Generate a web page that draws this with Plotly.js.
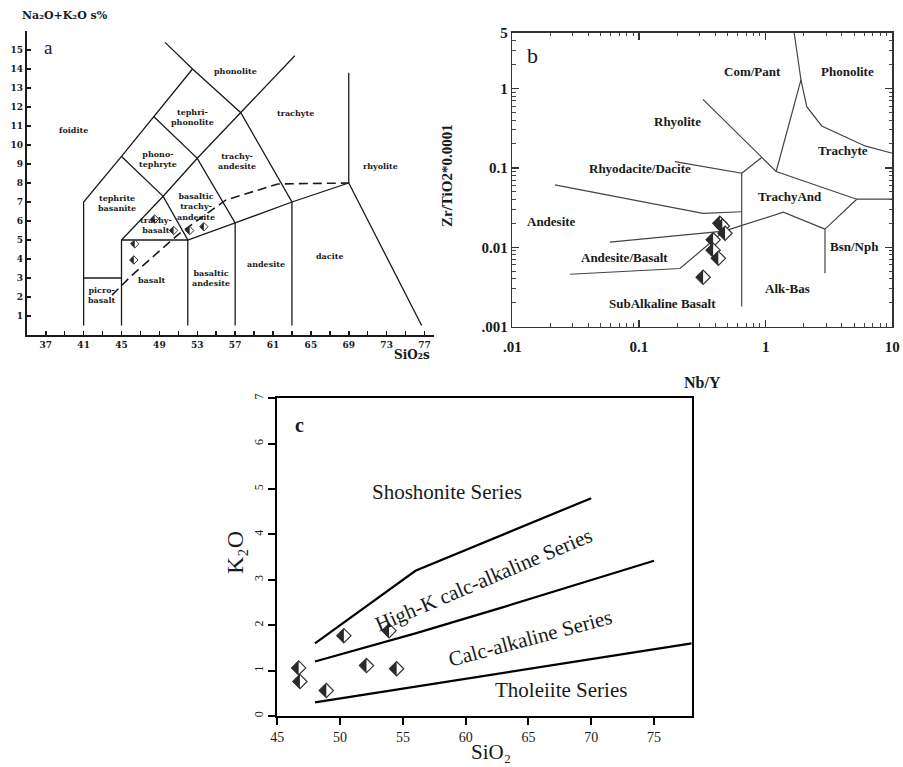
<!DOCTYPE html>
<html><head><meta charset="utf-8">
<script src="https://cdn.plot.ly/plotly-3.0.1.min.js"></script>
<style>html,body{margin:0;padding:0;background:#fff}#chart{width:903px;height:767px}</style>
</head><body><div id="chart"></div>
<script>
// ---------- Panel a : TAS diagram ----------
const tasBoundaryX = [41,41,45,48.4,52.5,null, 49.6,52.5,57.6,63,63,null, 63.3,57.6,53,49.4,45,45,null,
                      45,49.4,52,52,null, 48.4,53,57,57,null, 41,45,null, 45,52,57,63,69,76.7,null, 69,69];
const tasBoundaryY = [0.5,7,9.4,11.5,14,null, 15.4,14,11.7,7,0.5,null, 14.7,11.7,9.3,7.3,5,0.5,null,
                      9.4,7.3,5,0.5,null, 11.5,9.3,5.9,0.5,null, 3,3,null, 5,5,5.9,7,8,0.5,null, 8,13.8];
const tasDivideX = [44,46,51,53.5,56,61.5,69];
const tasDivideY = [2.1,3.1,5.3,6.2,7.1,7.95,8];
const tasSampleSiO2 = [48.5,50.5,52.2,53.7,46.4,46.3];
const tasSampleAlk  = [6.1,5.5,5.5,5.7,4.8,3.95];
const tasXTickVals = [37,39,41,43,45,47,49,51,53,55,57,59,61,63,65,67,69,71,73,75,77];
const tasXTickText = ['37','','41','','45','','49','','53','','57','','61','','65','','69','','73','','77'];
const tasYTickVals = [1,2,3,4,5,6,7,8,9,10,11,12,13,14,15];

// ---------- Panel b : Winchester & Floyd ----------
const wfBoundaryX = [1.68,1.90,2.11,2.77,6.08,10,null, 1.90,1.21,null, 0.32,1.21,5.23,10,null,
                     5.23,2.94,2.94,null, 0.47,1.38,2.94,null, 0.059,0.47,null, 0.0285,0.211,0.47,null,
                     0.647,0.647,0.192,null, 0.647,0.93,null, 0.0217,0.32,0.647];
const wfBoundaryY = [5,1.28,0.59,0.337,0.189,0.153,null, 1.28,0.09,null, 0.73,0.09,0.0403,0.0403,null,
                     0.0403,0.0169,0.0047,null, 0.016,0.0276,0.0169,null, 0.0116,0.016,null, 0.00457,0.0054,0.016,null,
                     0.00179,0.0855,0.12,null, 0.0855,0.135,null, 0.061,0.0268,0.028];
const wfSampleNbY  = [0.435,0.455,0.478,0.385,0.385,0.423,0.321];
const wfSampleZrTi = [0.020,0.0185,0.0150,0.0124,0.0092,0.00726,0.00419];
const wfXTickVals = [0.01,0.1,1,10];
const wfXTickText = ['.01','0.1','1','10'];
const wfYTickVals = [0.001,0.01,0.1,1,5];
const wfYTickText = ['.001','0.01','0.1','1','5'];

// ---------- Panel c : K2O vs SiO2 ----------
const shoX = [48,56,70],          shoY = [1.6,3.2,4.8];
const hkcaX = [48,56,63,75],      hkcaY = [1.2,1.82,2.4,3.42];
const thX = [48,63,78],           thY = [0.3,0.95,1.6];
const kSampleSiO2 = [46.7,46.8,48.9,50.3,52.1,53.9,54.5];
const kSampleK2O  = [1.06,0.76,0.56,1.77,1.11,1.88,1.04];
const kXTickVals = [45,50,55,60,65,70,75];
const kYTickVals = [0,1,2,3,4,5,6,7];

// minor ticks for log axes
function minorLog(lo, hi){ const v=[]; for(let d=lo; d<hi; d++){ for(let m=2;m<=9;m++){ v.push(m*Math.pow(10,d)); } } return v; }

const serif = 'Liberation Serif, Times New Roman, serif';
const tasFont = 'DejaVu Serif, serif';
const ink = '#1a1a1a';

const traces = [
  {x: tasBoundaryX, y: tasBoundaryY, xaxis:'x', yaxis:'y', mode:'lines', line:{color:ink, width:1.3}, hoverinfo:'skip'},
  {x: tasDivideX, y: tasDivideY, xaxis:'x', yaxis:'y', mode:'lines', line:{color:ink, width:1.6, dash:'9px,5px'}, hoverinfo:'skip'},
  {x: tasSampleSiO2, y: tasSampleAlk, xaxis:'x', yaxis:'y', mode:'markers',
   marker:{symbol:'diamond', size:6.5, color:'#fff', line:{color:'#333', width:1}}},
  {x: wfBoundaryX, y: wfBoundaryY, xaxis:'x2', yaxis:'y2', mode:'lines', line:{color:'#444', width:1.2}, hoverinfo:'skip'},
  {x: wfSampleNbY, y: wfSampleZrTi, xaxis:'x2', yaxis:'y2', mode:'markers',
   marker:{symbol:'diamond', size:11, color:'#fff', line:{color:'#333', width:1.2}}},
  {x: shoX, y: shoY, xaxis:'x3', yaxis:'y3', mode:'lines', line:{color:'#000', width:2.2}, hoverinfo:'skip'},
  {x: hkcaX, y: hkcaY, xaxis:'x3', yaxis:'y3', mode:'lines', line:{color:'#000', width:2.2}, hoverinfo:'skip'},
  {x: thX, y: thY, xaxis:'x3', yaxis:'y3', mode:'lines', line:{color:'#000', width:2.2}, hoverinfo:'skip'},
  {x: kSampleSiO2, y: kSampleK2O, xaxis:'x3', yaxis:'y3', mode:'markers',
   marker:{symbol:'diamond', size:11, color:'#fff', line:{color:'#333', width:1.2}}}
];

// half-filled diamonds as pixel-sized shapes anchored at the samples
function halfDiamonds(xs, ys, xref, yref, r){
  return xs.map((x,i)=>({type:'path', xref:xref, yref:yref, xsizemode:'pixel', ysizemode:'pixel',
    xanchor: x, yanchor: ys[i],
    path:`M ${-r},0 L 0,${r} L 0,${-r} Z`, fillcolor:'#2a2a2a', line:{width:0}}));
}
const shapes = [].concat(
  halfDiamonds(tasSampleSiO2, tasSampleAlk, 'x', 'y', 4.2),
  halfDiamonds(wfSampleNbY, wfSampleZrTi, 'x2', 'y2', 7.1),
  halfDiamonds(kSampleSiO2, kSampleK2O, 'x3', 'y3', 7.1)
);

function lab(text, x, y, ax, size, fam, bold, extra){
  return Object.assign({text:text, x:x, y:y, xref:'x'+ax, yref:'y'+ax, showarrow:false,
    xanchor:'center', yanchor:'middle',
    font:{family:fam, size:size, color:ink, weight: bold?'bold':'normal'}, align:'center'}, extra||{});
}
function ptitle(text, px, py, size, fam, bold, extra){
  return Object.assign({text:text, x:px/903, y:1-py/767, xref:'paper', yref:'paper', showarrow:false,
    xanchor:'center', yanchor:'middle',
    font:{family:fam, size:size, color:ink, weight: bold?'bold':'normal'}}, extra||{});
}
const A = '', B = '2', C = '3';
const annotations = [
  // panel a labels
  lab('phonolite', 57.0, 13.9, A, 8, tasFont, true),
  lab('tephri-<br>phonolite', 52.55, 11.47, A, 8, tasFont, true),
  lab('trachyte', 63.4, 11.7, A, 8, tasFont, true),
  lab('foidite', 39.9, 10.8, A, 8, tasFont, true),
  lab('phono-<br>tephryte', 48.86, 9.26, A, 8, tasFont, true),
  lab('trachy-<br>andesite', 57.2, 9.16, A, 8, tasFont, true),
  lab('rhyolite', 72.4, 8.9, A, 8, tasFont, true),
  lab('tephrite<br>basanite', 44.5, 6.97, A, 8, tasFont, true),
  lab('basaltic<br>trachy-<br>andesite', 52.9, 6.74, A, 8, tasFont, true),
  lab('trachy-<br>basalt', 48.6, 5.8, A, 8, tasFont, true),
  lab('basalt', 48.2, 2.9, A, 8, tasFont, true),
  lab('basaltic<br>andesite', 54.45, 3.0, A, 8, tasFont, true),
  lab('andesite', 60.3, 3.74, A, 8, tasFont, true),
  lab('dacite', 67.0, 4.16, A, 8, tasFont, true),
  lab('picro-<br>basalt', 42.95, 2.1, A, 8, tasFont, true),
  lab('a', 37.3, 15.15, A, 19, serif, false),
  // panel b labels (log10 coordinates)
  lab('Com/Pant', -0.1, 0.22, B, 13, serif, true),
  lab('Phonolite', 0.648, 0.22, B, 13, serif, true),
  lab('Rhyolite', -0.692, -0.422, B, 13, serif, true),
  lab('Trachyte', 0.609, -0.787, B, 13, serif, true),
  lab('Rhyodacite/Dacite', -0.992, -1.014, B, 13, serif, true),
  lab('TrachyAnd', 0.19, -1.366, B, 13, serif, true),
  lab('Andesite', -1.687, -1.681, B, 13, serif, true),
  lab('Andesite/Basalt', -1.118, -2.135, B, 13, serif, true),
  lab('Bsn/Nph', 0.703, -1.984, B, 13, serif, true),
  lab('Alk-Bas', 0.175, -2.513, B, 13, serif, true),
  lab('SubAlkaline Basalt', -0.818, -2.714, B, 13, serif, true),
  lab('b', -1.84, 0.42, B, 22, serif, false),
  // panel c labels
  lab('c', 46.8, 6.41, C, 20, serif, true),
  lab('Shoshonite Series', 58.5, 4.93, C, 21, serif, false),
  lab('High-K calc-alkaline Series', 61.4, 3.0, C, 21, serif, false, {textangle:-23}),
  lab('Calc-alkaline Series', 65.2, 1.72, C, 21, serif, false, {textangle:-15}),
  lab('Tholeiite Series', 67.6, 0.57, C, 21, serif, false),
  // axis titles (paper)
  ptitle('Na₂O+K₂O s%', 20, 16, 11, tasFont, true, {xanchor:'left'}),
  ptitle('SiO₂s', 412, 355, 12, tasFont, true),
  ptitle('Zr/TiO2*0.0001', 447, 176, 15, serif, true, {textangle:-90}),
  ptitle('Nb/Y', 702, 382, 16, serif, true),
  ptitle('K₂O', 235, 553, 24, serif, false, {textangle:-90}),
  ptitle('SiO₂', 491, 752, 21, serif, false)
];

const layout = {
  width:903, height:767, margin:{l:0,r:0,t:0,b:0}, paper_bgcolor:'#fff', plot_bgcolor:'rgba(0,0,0,0)',
  showlegend:false, hovermode:false,
  xaxis:{domain:[0.0297,0.4806], range:[35,78], anchor:'y', showline:true, linewidth:2, linecolor:ink,
    ticks:'inside', ticklen:4, tickwidth:1.5, tickcolor:ink, tickmode:'array', tickvals:tasXTickVals, ticktext:tasXTickText,
    tickfont:{family:tasFont, size:9, color:ink, weight:'bold'}, showgrid:false, zeroline:false},
  yaxis:{domain:[0.5632,0.9596], range:[0,16], anchor:'x', showline:true, linewidth:2, linecolor:ink,
    ticks:'inside', ticklen:4, tickwidth:1.5, tickcolor:ink, tickmode:'array', tickvals:tasYTickVals,
    tickfont:{family:tasFont, size:9, color:ink, weight:'bold'}, showgrid:false, zeroline:false},
  xaxis2:{domain:[0.5673,0.9882], type:'log', range:[-2,1], anchor:'y2', showline:true, mirror:'allticks', linewidth:1.5, linecolor:'#333',
    ticks:'inside', ticklen:7, tickwidth:1.3, tickcolor:'#333', tickmode:'array', tickvals:wfXTickVals, ticktext:wfXTickText,
    ticklabelstandoff:6,
    minor:{tickmode:'array', tickvals:minorLog(-2,1), ticks:'inside', ticklen:3.5, tickcolor:'#444', tickwidth:1, showgrid:false},
    tickfont:{family:serif, size:15, color:ink, weight:'bold'}, showgrid:false, zeroline:false},
  yaxis2:{domain:[0.5741,0.9570], type:'log', range:[-3,Math.log10(5)], anchor:'x2', showline:true, mirror:'allticks', linewidth:1.5, linecolor:'#333',
    ticks:'inside', ticklen:7, tickwidth:1.3, tickcolor:'#333', tickmode:'array', tickvals:wfYTickVals, ticktext:wfYTickText,
    minor:{tickmode:'array', tickvals:minorLog(-3,1), ticks:'inside', ticklen:3.5, tickcolor:'#444', tickwidth:1, showgrid:false},
    tickfont:{family:serif, size:15, color:ink, weight:'bold'}, showgrid:false, zeroline:false},
  xaxis3:{domain:[0.3071,0.7660], range:[45,78], anchor:'y3', showline:true, mirror:true, linewidth:2.2, linecolor:'#000',
    ticks:'outside', ticklen:7, tickwidth:2, tickcolor:'#000', tickmode:'array', tickvals:kXTickVals,
    tickfont:{family:serif, size:14, color:ink}, showgrid:false, zeroline:false},
  yaxis3:{domain:[0.0665,0.4807], range:[0,7], anchor:'x3', showline:true, mirror:true, linewidth:2.2, linecolor:'#000',
    ticks:'outside', ticklen:7, tickwidth:2, tickcolor:'#000', tickmode:'array', tickvals:kYTickVals, tickangle:-90,
    tickfont:{family:serif, size:12, color:ink}, showgrid:false, zeroline:false},
  shapes: shapes,
  annotations: annotations
};

Plotly.newPlot('chart', traces, layout, {staticPlot:true, displayModeBar:false});
</script>
</body></html>
